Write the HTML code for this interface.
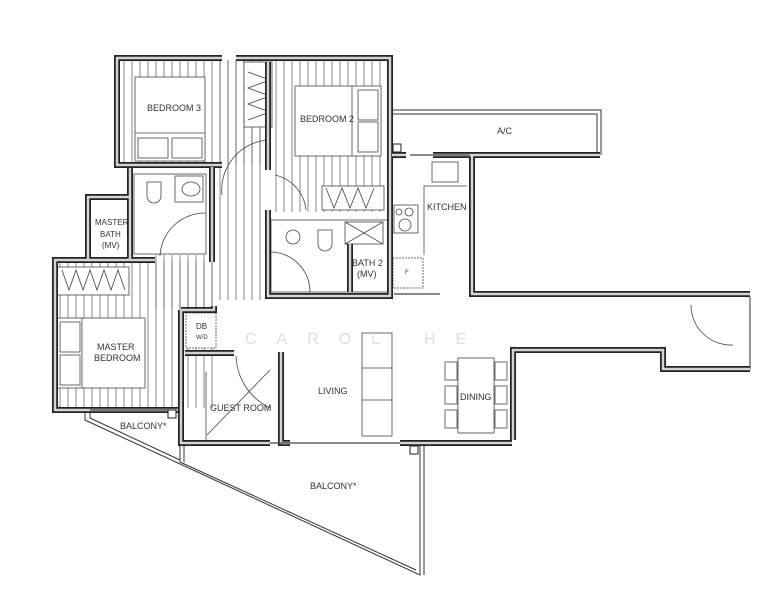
<!DOCTYPE html>
<html><head><meta charset="utf-8"><style>
html,body{margin:0;padding:0;background:#fff}
svg{display:block}
text{font-family:"Liberation Sans",sans-serif;font-size:9px;fill:#333}
</style></head><body>
<svg width="781" height="600" viewBox="0 0 781 600" xmlns="http://www.w3.org/2000/svg">
<defs>
<pattern id="h" width="8" height="10" patternUnits="userSpaceOnUse"><line x1="4" y1="0" x2="4" y2="10" stroke="#555" stroke-width="0.7"/></pattern>
<g id="w" fill="none">
<path d="M222 58 H117 V165 H222"/>
<path d="M236 58 H390 V296 H268 V210"/>
<path d="M268 170 V62"/>
<path d="M392 155 H406"/>
<path d="M433 155 H600"/>
<path d="M472 155 V294 H750"/>
<path d="M513 440 V350 H663 V369 H750"/>
<path d="M130 168 V197 H88 V260 H55 V410 H178"/>
<path d="M88 260 H155"/>
<path d="M212 167 V262"/>
<path d="M181 310 V443 H270"/><path d="M181 310 H214 V306"/>
<path d="M185 353 H234"/>
<path d="M281 352 V443 H290"/>
<path d="M400 443 H512"/>
<path d="M130 197 V260"/>
<path d="M350 244 V292"/>
</g>
</defs>
<g fill="url(#h)">
<rect x="120" y="60" width="145" height="104"/>
<rect x="218" y="60" width="48" height="240"/>
<rect x="272" y="60" width="114" height="152"/>
<rect x="57" y="262" width="160" height="146"/>
<rect x="155" y="255" width="62" height="54"/>
</g>
<g fill="#fff" stroke="#444" stroke-width="0.8">
<rect x="135" y="77" width="70" height="84"/><line x1="135" y1="133" x2="205" y2="133"/>
<rect x="138" y="138" width="30" height="20"/><rect x="172" y="138" width="30" height="20"/>
<rect x="244" y="62" width="28" height="65"/>
<rect x="295" y="86" width="86" height="70"/><line x1="352" y1="86" x2="352" y2="156"/>
<rect x="358" y="90" width="20" height="30"/><rect x="358" y="122" width="20" height="30"/>
<rect x="322" y="186" width="62" height="24"/>
<rect x="57" y="267" width="72" height="28"/>
<rect x="57" y="318" width="88" height="70"/><line x1="82" y1="318" x2="82" y2="388"/>
<rect x="60" y="322" width="20" height="30"/><rect x="60" y="355" width="20" height="30"/>
<rect x="134" y="174" width="72" height="80" fill="#fff"/>
<rect x="175" y="176" width="28" height="26"/>
<rect x="271" y="220" width="118" height="72"/>
<rect x="345" y="222" width="38" height="22"/>
<rect x="186" y="313" width="30" height="35" stroke-dasharray="2,1"/>
<rect x="395" y="160" width="72" height="130" fill="#fff" stroke="none"/>
<rect x="432" y="162" width="26" height="20"/>
<rect x="394" y="205" width="24" height="28"/>
<rect x="393" y="258" width="30" height="30" stroke-dasharray="2,1"/>
<rect x="362" y="333" width="30" height="103"/>
<line x1="362" y1="368" x2="392" y2="368"/><line x1="362" y1="400" x2="392" y2="400"/>
<rect x="458" y="358" width="36" height="75"/>
<rect x="445" y="362" width="12" height="18"/><rect x="445" y="386" width="12" height="18"/><rect x="445" y="410" width="12" height="18"/>
<rect x="495" y="362" width="12" height="18"/><rect x="495" y="386" width="12" height="18"/><rect x="495" y="410" width="12" height="18"/>
</g>
<g fill="none" stroke="#444" stroke-width="0.8">
<ellipse cx="191" cy="189" rx="9" ry="7"/>
<path d="M147 182 h14 v14 a7 7 0 0 1 -14 0z"/>
<path d="M318 230 h14 v14 a7 7 0 0 1 -14 0z"/>
<circle cx="293" cy="237" r="7"/>
<circle cx="399" cy="212" r="3"/><circle cx="409" cy="212" r="4"/><circle cx="405" cy="225" r="6"/>
<path d="M424 255 V186 H467"/>
<path d="M160 256 A45 45 0 0 1 206 213"/>
<path d="M275 175 A40 40 0 0 1 306 210"/>
<path d="M271 252 A40 40 0 0 1 310 292"/>
<path d="M222 195 A50 50 0 0 1 268 140"/>
<path d="M236 356 A60 60 0 0 0 270 408"/>
<path d="M691 305 A40 40 0 0 0 733 345"/>
<path d="M207 435 L270 370"/><line x1="206" y1="372" x2="206" y2="440"/>
<path d="M248 72 l22 8 l-22 8 l22 8 l-22 8 l22 8 l-22 8" />
<path d="M326 188 l8 20 l8 -20 l8 20 l8 -20 l8 20 l8 -20"/>
<path d="M62 270 l7 20 l7 -20 l7 20 l7 -20 l7 20 l7 -20 l7 20 l7 -20 l7 20"/>
<path d="M345 222 l38 22 M383 222 l-38 22"/>
</g>
<g fill="none" stroke="#333" stroke-width="1">
<path d="M391 110 H601 V155"/><path d="M391 114 H597 V155"/>
<path d="M750 297 V370"/>
<path d="M85 410 L85 420 L420 575 L420 444"/><path d="M90 410 L90 418 L180 460"/>
<path d="M180 445 L180 462 L416 570"/><path d="M184 445 L184 462"/>
<line x1="424" y1="444" x2="424" y2="575"/>
</g>
<use href="#w" stroke="#222" stroke-width="6"/>
<use href="#w" stroke="#d4d4d4" stroke-width="2.5"/>
<g fill="none" stroke="#444" stroke-width="1.2">
<line x1="270" y1="443" x2="400" y2="443"/><line x1="90" y1="410" x2="170" y2="410"/>
<line x1="394" y1="294" x2="440" y2="294"/><line x1="410" y1="155" x2="470" y2="155"/>
</g>
<g fill="#fff" stroke="#222" stroke-width="1">
<rect x="393" y="144" width="8" height="8"/><rect x="168" y="410" width="8" height="8"/><rect x="410" y="446" width="8" height="8"/>
</g>
<text x="245" y="344" style="font-size:16px;fill:#ddd;letter-spacing:20px">CAROL HE</text>
<text x="147" y="111">BEDROOM 3</text>
<text x="300" y="122">BEDROOM 2</text>
<text x="497" y="134">A/C</text>
<text x="427" y="210">KITCHEN</text>
<text x="95" y="225" style="font-size:8px">MASTER</text><text x="100" y="237" style="font-size:8px">BATH</text><text x="102" y="248" style="font-size:8px">(MV)</text>
<text x="352" y="266">BATH 2</text><text x="357" y="277">(MV)</text>
<text x="196" y="329" style="font-size:8px">DB</text><text x="196" y="339" style="font-size:6px">W/D</text>
<text x="97" y="350">MASTER</text><text x="94" y="361">BEDROOM</text>
<text x="210" y="411">GUEST ROOM</text>
<text x="318" y="394">LIVING</text>
<text x="460" y="400">DINING</text>
<text x="120" y="429">BALCONY*</text>
<text x="310" y="489">BALCONY*</text>
<text x="405" y="274" style="font-size:6px">F</text>
</svg>
</body></html>
